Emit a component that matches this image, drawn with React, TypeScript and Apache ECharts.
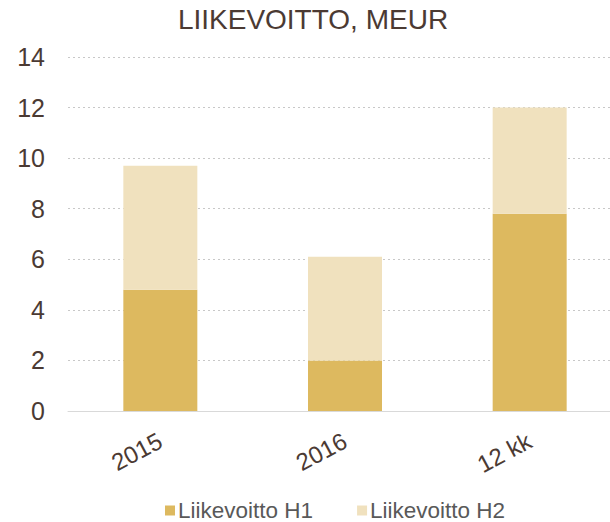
import React, { useEffect, useRef } from "react";
import * as echarts from "echarts";

const categories = ["2015", "2016", "12 kk"];
const h1Values = [4.8, 2.0, 7.8];
const h2Values = [4.9, 4.1, 4.2];
const seriesNames = ["Liikevoitto H1", "Liikevoitto H2"];
const titleText = "LIIKEVOITTO, MEUR";

const FONT = "'Liberation Sans', Arial, sans-serif";

export default function App() {
  const ref = useRef<HTMLDivElement>(null);
  useEffect(() => {
    if (!ref.current) return;
    const chart = echarts.init(ref.current, null, { renderer: "svg" });
    chart.setOption({
      animation: false,
      backgroundColor: "#ffffff",
      title: {
        text: titleText,
        left: 308,
        textAlign: "center",
        top: 0,
        textStyle: { fontFamily: FONT, fontSize: 28, fontWeight: "normal", color: "#4B3A33" },
      },
      legend: {
        left: 160,
        top: 494,
        itemWidth: 10,
        itemHeight: 10,
        itemGap: 44,
        icon: "rect",
        textStyle: { fontFamily: FONT, fontSize: 22.5, color: "#595959", padding: [0, 0, 0, -2] },
        data: seriesNames,
      },
      grid: { left: 68, right: 0, top: 57, bottom: 111, containLabel: false },
      xAxis: {
        type: "category",
        data: categories,
        axisLine: { show: true, lineStyle: { color: "#D9D9D9", width: 1 } },
        axisTick: { show: false },
        axisLabel: {
          rotate: 28,
          margin: 28,
          fontFamily: FONT,
          fontSize: 24,
          color: "#4B3A33",
        },
      },
      yAxis: {
        type: "value",
        min: 0,
        max: 14,
        interval: 2,
        axisLine: { show: false },
        axisTick: { show: false },
        axisLabel: { margin: 23, fontFamily: FONT, fontSize: 25, color: "#4B3A33" },
        splitLine: { show: true, lineStyle: { color: "#C8C8C8", width: 1, type: [2, 3] } },
      },
      series: [
        {
          name: seriesNames[0],
          type: "bar",
          stack: "total",
          barWidth: 74,
          data: h1Values,
          itemStyle: { color: "#DDB95F" },
        },
        {
          name: seriesNames[1],
          type: "bar",
          stack: "total",
          barWidth: 74,
          data: h2Values,
          itemStyle: { color: "#F0E1BE" },
        },
      ],
    });
    return () => chart.dispose();
  }, []);
  return (
    <div
      style={{
        position: "fixed",
        left: 0,
        top: 0,
        width: 610,
        height: 522,
        overflow: "hidden",
        background: "#fff",
      }}
    >
      <div ref={ref} style={{ width: 622, height: 522 }} />
    </div>
  );
}
